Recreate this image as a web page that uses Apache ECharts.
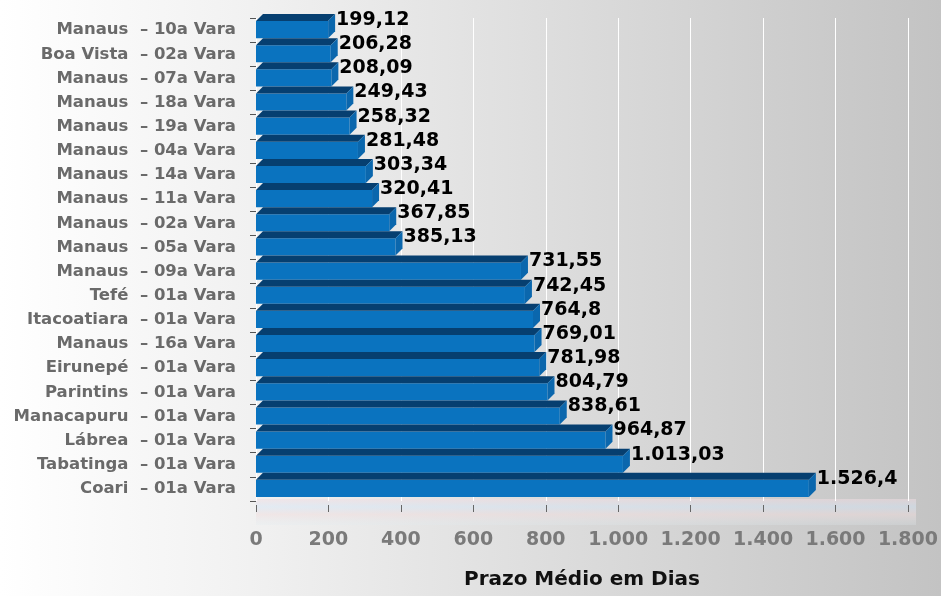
<!DOCTYPE html>
<html>
<head>
<meta charset="utf-8">
<script src="https://cdn.jsdelivr.net/npm/echarts@6/dist/echarts.min.js"></script>
<style>
html,body{margin:0;padding:0;}
#chart{width:941px;height:596px;}
</style>
</head>
<body>
<div id="chart"></div>
<script>
// Categories (top to bottom as shown)
var categories = [
  "Manaus  – 10a Vara",
  "Boa Vista  – 02a Vara",
  "Manaus  – 07a Vara",
  "Manaus  – 18a Vara",
  "Manaus  – 19a Vara",
  "Manaus  – 04a Vara",
  "Manaus  – 14a Vara",
  "Manaus  – 11a Vara",
  "Manaus  – 02a Vara",
  "Manaus  – 05a Vara",
  "Manaus  – 09a Vara",
  "Tefé  – 01a Vara",
  "Itacoatiara  – 01a Vara",
  "Manaus  – 16a Vara",
  "Eirunepé  – 01a Vara",
  "Parintins  – 01a Vara",
  "Manacapuru  – 01a Vara",
  "Lábrea  – 01a Vara",
  "Tabatinga  – 01a Vara",
  "Coari  – 01a Vara"
];
var values = [
  199.12, 206.28, 208.09, 249.43, 258.32, 281.48, 303.34, 320.41, 367.85, 385.13,
  731.55, 742.45, 764.8, 769.01, 781.98, 804.79, 838.61, 964.87, 1013.03, 1526.4
];
var axisTitle = "Prazo Médio em Dias";
var axisMax = 1800;
var axisStep = 200;

function fmtBR(v) {
  var s = String(v);
  var parts = s.split('.');
  var intPart = parts[0].replace(/\B(?=(\d{3})+(?!\d))/g, '.');
  return parts.length > 1 ? intPart + ',' + parts[1] : intPart;
}

var chart = echarts.init(document.getElementById('chart'));

var DEPTH = 7;
function renderBar(params, api) {
  var idx = api.value(0);
  var val = api.value(1);
  var p0 = api.coord([0, idx]);
  var p1 = api.coord([val, idx]);
  var band = api.size([0, 1])[1];
  var yb = p0[1] - band / 2;
  var x0 = p0[0], x1 = p1[0];
  var topY = yb - 4, midY = yb + 3, botY = yb + band - 4;
  return {
    type: 'group',
    children: [
      { type: 'rect', shape: { x: x0, y: midY, width: x1 - x0, height: botY - midY },
        style: { fill: '#0a73bf' } },
      { type: 'polygon', shape: { points: [[x0, midY], [x0 + DEPTH, topY], [x1 + DEPTH, topY], [x1, midY]] },
        style: { fill: '#063f70' } },
      { type: 'polygon', shape: { points: [[x1, midY], [x1 + DEPTH, topY], [x1 + DEPTH, botY - 7], [x1, botY]] },
        style: { fill: '#0b67ad' } },
      { type: 'text', style: { text: fmtBR(val), x: x1 + DEPTH + 1, y: yb + 2,
        textVerticalAlign: 'middle', textAlign: 'left',
        font: 'bold 19px "DejaVu Sans"', fill: '#000' } }
    ]
  };
}

var option = {
  animation: false,
  backgroundColor: {
    type: 'linear', x: 0, y: 0, x2: 1, y2: 0,
    colorStops: [
      { offset: 0, color: '#ffffff' },
      { offset: 0.25, color: '#f2f2f2' },
      { offset: 1, color: '#c3c3c3' }
    ]
  },
  graphic: [
    { type: 'rect', z: -1, shape: { x: 256, y: 499, width: 660, height: 26 },
      style: { fill: {
        type: 'linear', x: 0, y: 0, x2: 0, y2: 1,
        colorStops: [
          { offset: 0, color: 'rgba(240,220,225,0.55)' },
          { offset: 0.3, color: 'rgba(215,230,245,0.55)' },
          { offset: 0.6, color: 'rgba(240,222,222,0.55)' },
          { offset: 1, color: 'rgba(225,235,240,0.25)' }
        ] } } }
  ],
  grid: { left: 256, right: 33, top: 18, bottom: 95, containLabel: false },
  xAxis: {
    type: 'value', min: 0, max: axisMax, interval: axisStep,
    offset: 4,
    axisLine: { show: false },
    axisTick: { show: true, length: 7, lineStyle: { color: '#666' } },
    splitLine: { show: true, lineStyle: { color: '#ffffff', width: 1 } },
    axisLabel: { margin: 26, color: '#7a7a7a', fontFamily: 'DejaVu Sans', fontWeight: 'bold', fontSize: 19,
      formatter: function (v) { return fmtBR(v); } },
    name: axisTitle, nameLocation: 'middle', nameGap: 65,
    nameTextStyle: { color: '#111', fontFamily: 'DejaVu Sans', fontWeight: 'bold', fontSize: 20 }
  },
  yAxis: {
    type: 'category', data: categories, inverse: true,
    axisLine: { show: false },
    axisTick: { show: true, length: 6, lineStyle: { color: '#555' } },
    axisLabel: { margin: 20, color: '#6a6a6a', fontFamily: 'DejaVu Sans', fontWeight: 'bold', fontSize: 16.5 }
  },
  series: [{
    type: 'custom',
    renderItem: renderBar,
    encode: { x: 1, y: 0 },
    data: values.map(function (v, i) { return [i, v]; }),
    clip: false
  }]
};
chart.setOption(option);
</script>
</body>
</html>
